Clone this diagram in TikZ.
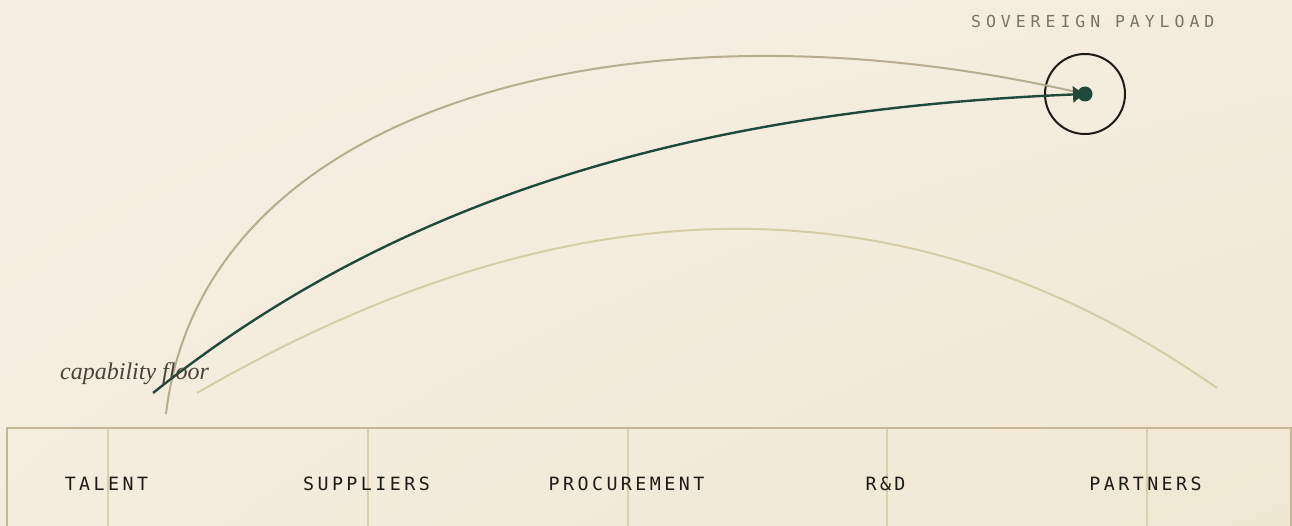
\documentclass[tikz,border=0pt]{standalone}
\usepackage{fontspec}
\usetikzlibrary{arrows.meta,shadings}
\newfontfamily\labelmono[LetterSpace=19]{DejaVu Sans Mono}
\newfontfamily\titlemono[LetterSpace=30]{DejaVu Sans Mono}
\newfontfamily\notefont{Liberation Serif}

\definecolor{paper}{HTML}{F6F0E3}
\definecolor{paperdeep}{HTML}{F0E7D3}
\definecolor{ink}{HTML}{1E1A16}
\definecolor{pine}{HTML}{1F4A3A}
\definecolor{sand}{HTML}{B7AC8F}
\definecolor{straw}{HTML}{D7CCA8}
\definecolor{frame}{HTML}{C3B798}
\definecolor{divider}{HTML}{DACFAE}
\definecolor{mutedtext}{HTML}{7B7266}
\definecolor{notetext}{HTML}{4A4238}

\tikzset{
  pillar/.style={font=\labelmono\fontsize{18.3}{20}\selectfont, text=ink, inner sep=0pt, anchor=base},
  heading/.style={font=\titlemono\fontsize{16.5}{18}\selectfont, text=mutedtext, inner sep=0pt, anchor=base west},
  note/.style={font=\notefont\itshape\fontsize{24}{26}\selectfont, text=notetext, inner sep=0pt, anchor=base west},
  ring/.style={circle, draw=ink, line width=2pt, minimum size=80pt, inner sep=0pt},
  core/.style={circle, fill=pine, minimum size=15pt, inner sep=0pt},
  trajectory/.style={draw=pine, line width=2.4pt, -{Triangle[length=11pt,width=16pt]}},
  envelope/.style={draw=sand, line width=2pt},
  ceiling/.style={draw=straw, line width=2pt},
  framestroke/.style={draw=frame, line width=2pt},
  dividerstroke/.style={draw=divider, line width=2pt},
}

\begin{document}
\begin{tikzpicture}[x=1pt, y=-1pt]
  % canvas
  \useasboundingbox (0,0) rectangle (1292,526);
  \clip (0,0) rectangle (1292,526);
  \shade[upper left=paper, upper right=paper!70!paperdeep, lower left=paper!70!paperdeep, lower right=paperdeep]
    (0,0) rectangle (1292,526);

  % foundation band and its dividers
  \coordinate (bandNW) at (7,428);
  \coordinate (bandNE) at (1291,428);
  \draw[framestroke] (7,540) -- (bandNW) -- (bandNE) -- (1291,540);
  \foreach \x/\n in {108/a,368/b,628/c,887/d,1147/e} {
    \coordinate (div\n) at (\x,429);
    \draw[dividerstroke] (div\n) -- (\x,540);
  }

  % pillar labels
  \node[pillar] (talent)      at (106.5,490)  {TALENT};
  \node[pillar] (suppliers)   at (366.5,490)  {SUPPLIERS};
  \node[pillar] (procurement) at (626.5,490)  {PROCUREMENT};
  \node[pillar] (rnd)         at (885.5,490)  {R\&D};
  \node[pillar] (partners)    at (1145.5,490) {PARTNERS};

  % target
  \node[heading] (title) at (971,27.5) {SOVEREIGN PAYLOAD};
  \node[ring] (target) at (1085,94) {};

  % starting points of the curves
  \coordinate (envStart) at (166,414);
  \coordinate (trajStart) at (153,393);
  \coordinate (ceilStart) at (197,393);
  \coordinate (ceilEnd) at (1217,388);
  \coordinate (aim) at (1084,94);

  % outer envelope
  \draw[envelope] (envStart) .. controls (203,100) and (640,-10) .. (target.center);
  % inner ceiling arc
  \draw[ceiling] (ceilStart) .. controls (572,176) and (912,174) .. (ceilEnd);
  % main trajectory
  \draw[trajectory] (trajStart) .. controls (400,195) and (700,110) .. (aim);
  \node[core] (payload) at (target.center) {};

  % floor label
  \node[note] (floor) at (60,379) {capability floor};
\end{tikzpicture}
\end{document}
